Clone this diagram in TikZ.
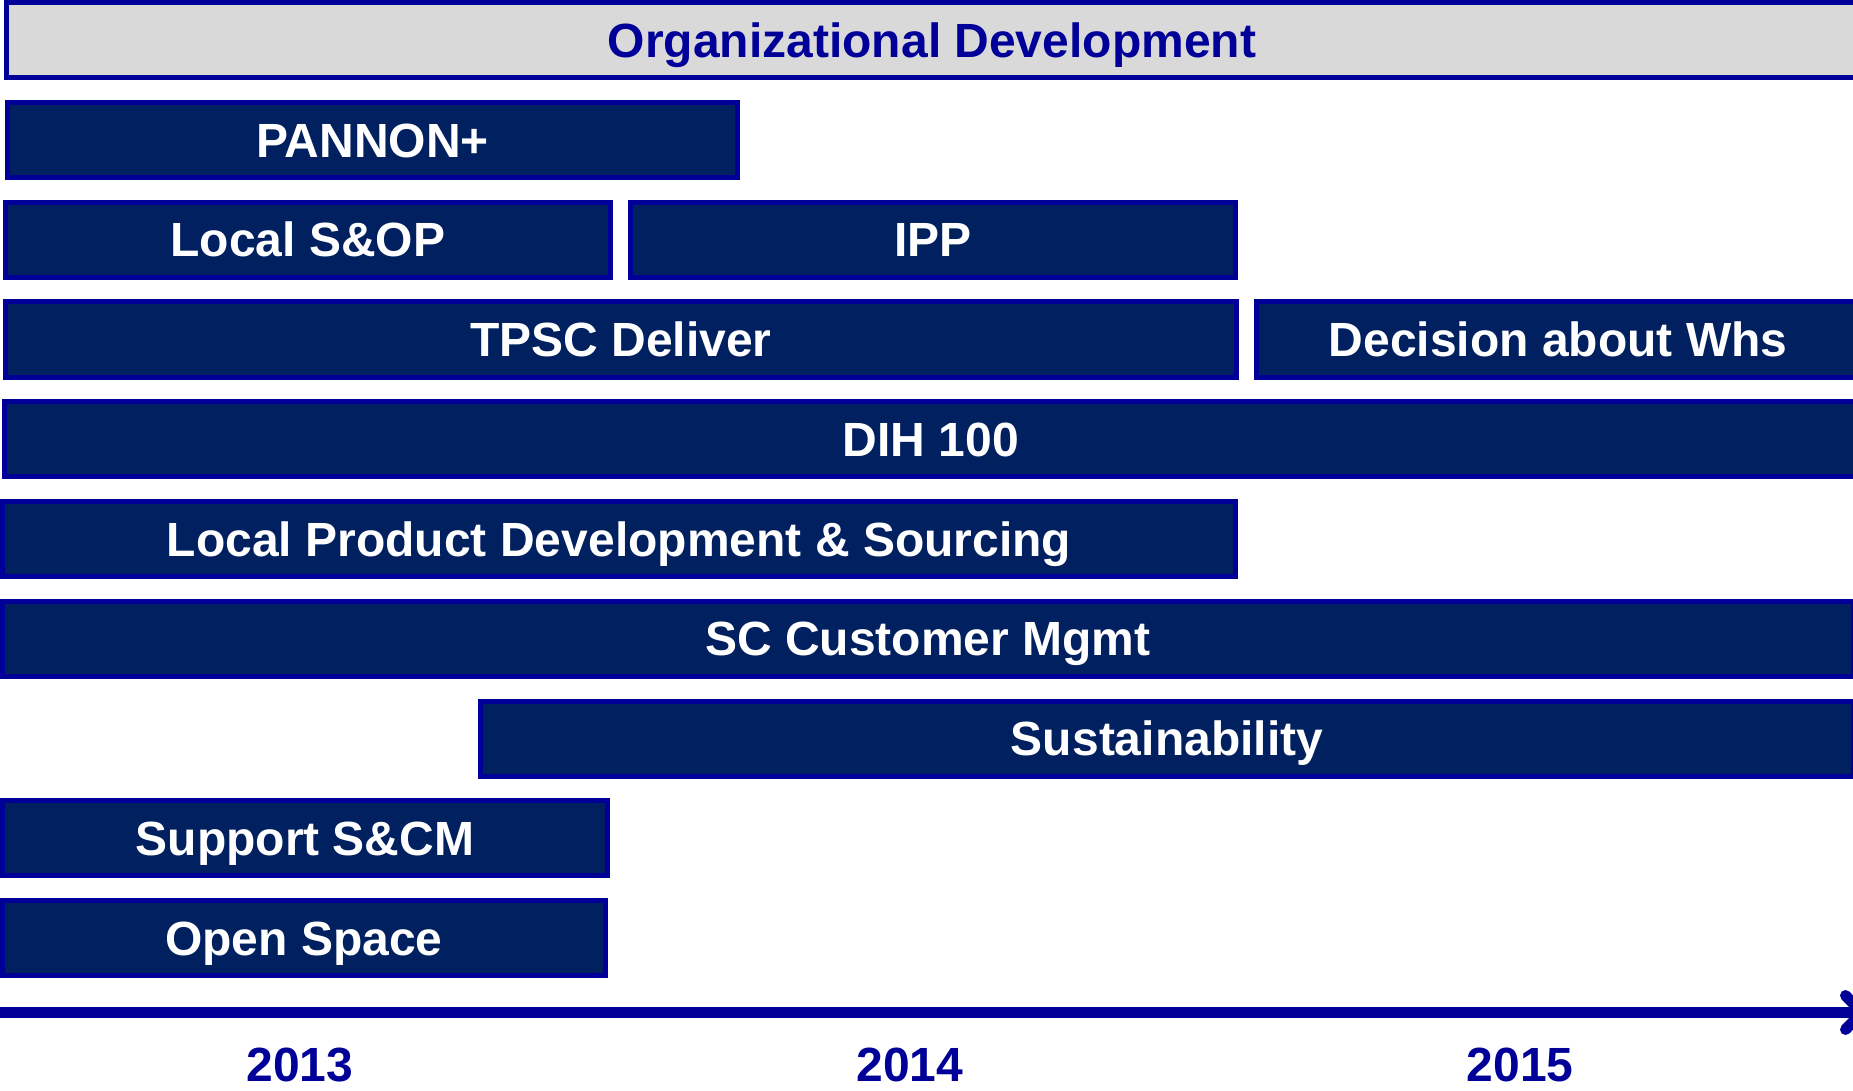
\documentclass[tikz,border=0pt]{standalone}
\usepackage{fontspec}
\setmainfont{Liberation Sans}
\usetikzlibrary{calc}
\definecolor{bordblue}{HTML}{000099}
\definecolor{navyfill}{HTML}{002060}
\definecolor{lgray}{HTML}{D9D9D9}
\newcommand\tlbar[6]{%
  \pgfmathsetmacro\tlcx{(#2+#3)/2}%
  \pgfmathsetmacro\tlw{(#3-#2-5)/2}%
  \node[#5, minimum width=\tlw pt] (#1) at (\tlcx,#4) {#6};}
\tikzset{
  barbox/.style={draw=bordblue, line width=2.5pt, fill=navyfill, text=white,
    inner sep=0pt, minimum height=37.5pt, text height=17.2pt, text depth=0pt,
    font=\fontsize{24}{28}\selectfont\bfseries},
  headbox/.style={barbox, fill=lgray, text=bordblue},
  yearlbl/.style={text=bordblue, anchor=base, inner sep=0pt,
    text height=17.2pt, text depth=0pt,
    font=\fontsize{24}{28}\selectfont\bfseries},
  axisshaft/.style={draw=bordblue, line width=5.5pt},
  axishead/.style={draw=bordblue, line width=5.5pt, line cap=round, line join=round}
}
\begin{document}
\begin{tikzpicture}[x=0.5pt,y=-0.5pt]
\useasboundingbox (0,0) rectangle (1853,1091);
\tlbar{org}{4}{1860}{40}{headbox}{Organizational Development}
\tlbar{pannon}{5}{740}{140}{barbox}{PANNON+}
\tlbar{sop}{3}{613}{239.75}{barbox}{Local S\&OP}
\tlbar{ipp}{628}{1238}{239.75}{barbox}{IPP}
\tlbar{tpsc}{3}{1239}{339.5}{barbox}{TPSC Deliver}
\tlbar{whs}{1254}{1862}{339.5}{barbox}{Decision about Whs}
\tlbar{dih}{2}{1860}{439.25}{barbox}{DIH 100}
\tlbar{lpd}{0}{1238}{539}{barbox}{Local Product Development \& Sourcing}
\tlbar{scm}{0}{1856}{638.75}{barbox}{SC Customer Mgmt}
\tlbar{sust}{478}{1856}{738.5}{barbox}{Sustainability}
\tlbar{supp}{0}{610}{838.25}{barbox}{Support S\&CM}
\tlbar{open}{0}{608}{938}{barbox}{Open Space}
\coordinate (axS) at (-5,1012.5);
\coordinate (axE) at (1862,1012.5);
\draw[axisshaft] (axS) -- (axE);
\draw[axishead] ($(axE)+(-16.5,-17)$) -- (axE) -- ($(axE)+(-16.5,17)$);
\node[yearlbl] (y13) at (300,1081) {2013};
\node[yearlbl] (y14) at (910,1081) {2014};
\node[yearlbl] (y15) at (1520,1081) {2015};
\end{tikzpicture}
\end{document}
